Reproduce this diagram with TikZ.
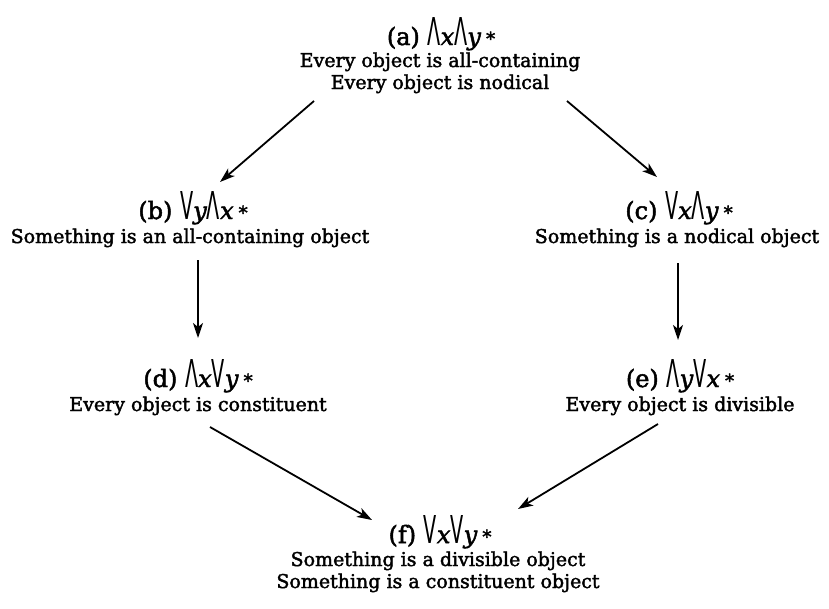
\documentclass[tikz,border=0pt]{standalone}
\usepackage{fontspec}
\usepackage{graphicx}
\setmainfont{DejaVu Serif}[FakeBold=2]
\newfontfamily\symf{DejaVu Sans}
\usetikzlibrary{arrows.meta,calc}
\newcommand\QA{\scalebox{0.8}[1.6]{\symf Λ}}
\newcommand\QE{\scalebox{0.8}[1.6]{\symf V}}
\newcommand\vx{\textit{x}}
\newcommand\vy{\textit{y}}
\newcommand\st{\hspace{5pt}\raisebox{0pt}{\fontsize{18}{18}\selectfont *}}
\begin{document}
\begin{tikzpicture}[x=1pt,y=-1pt,
  lbl/.style={inner sep=0pt, anchor=base, font=\fontsize{19}{22}\selectfont},
  ttl/.style={inner sep=0pt, anchor=base, font=\fontsize{24}{26}\selectfont},
  arr/.style={line width=1.8pt, -{Stealth[length=15pt,width=10pt,inset=4pt]}}]
\useasboundingbox (0,0) rectangle (829,608);
% (a)
\node[ttl] (a)  at (441,45) {(a) \QA\vx\QA\vy\st};
\node[lbl] (a1) at (440,67) {Every object is all-containing};
\node[lbl] (a2) at (440,89) {Every object is nodical};
% (b)
\node[ttl] (b)  at (193,219) {(b) \QE\vy\QA\vx\st};
\node[lbl] (b1) at (190,243) {Something is an all-containing object};
% (c)
\node[ttl] (c)  at (679,219) {(c) \QE\vx\QA\vy\st};
\node[lbl] (c1) at (677,243) {Something is a nodical object};
% (d)
\node[ttl] (d)  at (198,387) {(d) \QA\vx\QE\vy\st};
\node[lbl] (d1) at (198,411) {Every object is constituent};
% (e)
\node[ttl] (e)  at (680,387) {(e) \QA\vy\QE\vx\st};
\node[lbl] (e1) at (680,411) {Every object is divisible};
% (f)
\node[ttl] (f)  at (440,543) {(f) \QE\vx\QE\vy\st};
\node[lbl] (f1) at (438,566) {Something is a divisible object};
\node[lbl] (f2) at (438,588) {Something is a constituent object};
% arrows
\draw[arr] ($(a2.base)+(-126,12)$) -- ($(b.base)+(27,-37)$);
\draw[arr] ($(a2.base)+(127,12)$) -- ($(c.base)+(-22,-42)$);
\draw[arr] ($(b1.base)+(8,17)$) -- ($(d.base)+(0,-49)$);
\draw[arr] ($(c1.base)+(1,20)$) -- ($(e.base)+(-2,-47)$);
\draw[arr] ($(d1.base)+(12,16)$) -- ($(f.base)+(-68,-23)$);
\draw[arr] ($(e1.base)+(-22,13)$) -- ($(f.base)+(78,-34)$);
\end{tikzpicture}
\end{document}
